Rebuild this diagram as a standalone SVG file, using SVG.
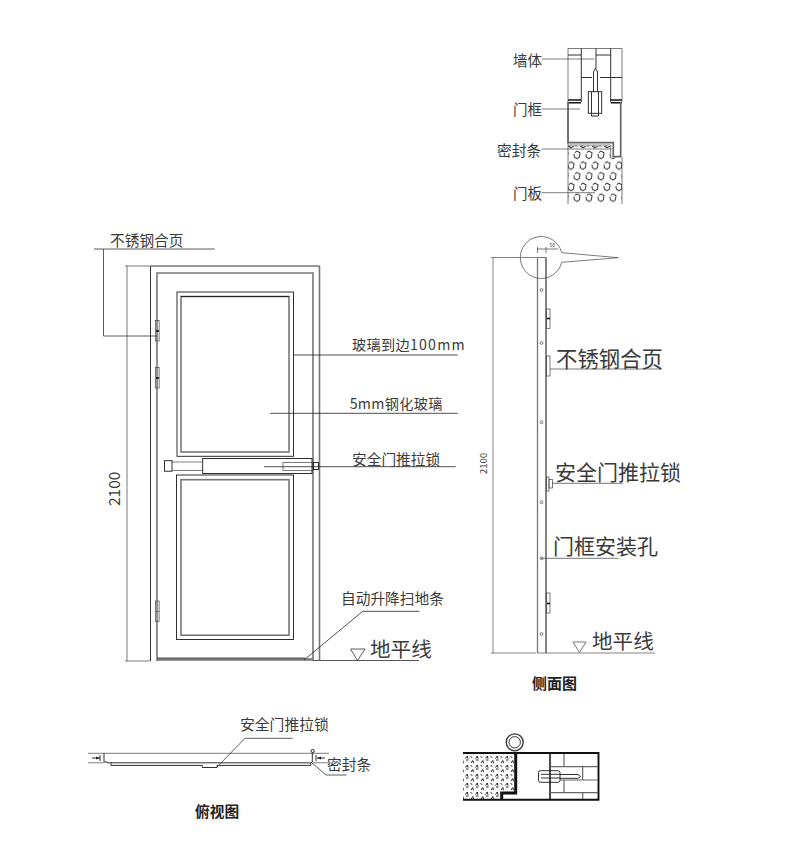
<svg xmlns="http://www.w3.org/2000/svg" width="790" height="855" viewBox="0 0 790 855">
<style>
text{font-family:"Noto Sans CJK SC","Noto Sans",sans-serif;fill:#3a3a3a}
.bold{font-weight:700;fill:#222}
.k,.g,.t,.h{fill:none;stroke-linejoin:miter}
.k{stroke:#1a1a1a;stroke-width:.9}
.g{stroke:#777;stroke-width:1.6}
.t{stroke:#444;stroke-width:.7}
.h{stroke:#111;stroke-width:1.6}
</style>
<defs>
<pattern id="foam" width="12" height="21.400" patternUnits="userSpaceOnUse" patternTransform="translate(571 150)">
<path d="M3.800 2.500L6 1 9 2.800 8.500 7 6 8.600 3.300 7 3 3.800M-2.200 13.200L0 11.700 3 13.500 2.500 17.700 0 19.300-2.700 17.700-3 14.500M9.800 13.200L12 11.700 15 13.500 14.500 17.700 12 19.300 9.300 17.700 9 14.500" fill="none" stroke="#333" stroke-width="1"/>
</pattern>
<pattern id="foam2" width="10" height="9" patternUnits="userSpaceOnUse" patternTransform="translate(464 755)">
<path d="M1.500 3.500L3.300 1 4 3.700M2 5H4.500M7 8L8.800 5.500 9.500 8.200M6.500 1.500L8.300 2.500" fill="none" stroke="#222" stroke-width="1"/>
</pattern>
</defs>

<g id="section-top">
<rect x="568" y="146" width="54" height="58" fill="url(#foam)"/>
<rect x="611" y="140" width="12" height="17.500" fill="#fff"/>
<path d="M568.500 146H610" stroke="#333" stroke-width=".8" stroke-dasharray="3 3"/>
<path class="t" d="M568 204V48.500H622V102M622 157V204" stroke="#555"/>
<path class="h" d="M568 102.700H581M610.700 102.700H622M568 100H581M610.700 100H622"/>
<path class="k" d="M581.300 48.500V102M596 48.500V68M610.700 48.500V102M568 55H581M596 55H610.700M581.300 77.500H592M600 77.500H622"/>
<path class="k" d="M593.500 92V72l2-4 2 4V92"/>
<rect class="k" x="588.300" y="91.700" width="13.400" height="21.600" fill="#fff"/>
<path class="k" d="M591.500 113.500v2.500h7v-2.500M591.500 92v21M598.500 92v21"/>
<path d="M568 102V142.700H613.300V156.700H620.700V102" fill="none" stroke="#666" stroke-width="1.700"/>
<path d="M568 145H610.700V157" fill="none" stroke="#888" stroke-width="1"/>
<path class="t" d="M541.700 59H594.300M541.700 109H580M541.700 149H611.700M541.700 192.700H595"/>
<text x="513" y="66" font-size="14.500">墙体</text>
<text x="513" y="115" font-size="14.500">门框</text>
<text x="497" y="156" font-size="14.700">密封条</text>
<text x="513" y="199" font-size="14.500">门板</text>
</g>

<g id="door-front">
<path class="g" d="M319.500 661V266M157 661V273H313V661"/>
<path d="M150.500 661V266H319.500" fill="none" stroke="#333" stroke-width="1"/>
<rect class="k" x="177" y="292" width="116.500" height="164.300" stroke-width="1.100"/>
<rect class="g" x="181" y="296.500" width="108" height="155.500"/>
<path d="M181 296.500H289" stroke="#222" stroke-width="1"/>
<rect class="k" x="176.500" y="475" width="117" height="164.500" stroke-width="1.100"/>
<rect class="g" x="181" y="479.700" width="108" height="155.500"/>
<path d="M157 659.500H313" stroke="#777" stroke-width="2.400"/>
<path d="M157 658H305" stroke="#222" stroke-width=".8"/>
</g>

<g id="hinges-front">
<g><rect class="t" x="155.500" y="320.500" width="3.600" height="20.500"/><path class="h" d="M156 331H159"/></g>
<g><rect class="t" x="155.500" y="367.500" width="3.600" height="20.500"/><path class="h" d="M156 378H159"/></g>
<g><rect class="t" x="155.500" y="601" width="3.600" height="20.500"/><path class="t" d="M156 611.500H159"/></g>
</g>

<g id="lock-front">
<rect class="k" x="202.700" y="458.500" width="109.300" height="15" fill="#fff"/>
<rect class="k" x="164.500" y="460.700" width="7.500" height="10.500" fill="#fff"/>
<path class="t" d="M172 462H203M172 470.500H203" stroke-width="1"/>
<rect class="t" x="283" y="462.500" width="30" height="8" stroke-width="1"/>
<rect class="k" x="313.500" y="462.500" width="5" height="7" stroke-width="1.200"/>
</g>

<g id="side-view">
<path d="M537.500 257.500V653" fill="none" stroke="#777" stroke-width="1.300"/>
<path d="M546 257.500V653" fill="none" stroke="#777" stroke-width="1.800"/>
<path d="M537.500 257.500H546" stroke="#555" stroke-width=".8"/>
<circle cx="541.500" cy="290" r="1.400" class="t"/>
<circle cx="541.500" cy="343" r="1.400" class="t"/>
<circle cx="541.500" cy="422.300" r="1.400" class="t"/>
<circle cx="541.500" cy="502.300" r="1.400" class="t"/>
<circle cx="541.500" cy="558.300" r="1.400" class="t"/>
<circle cx="541.500" cy="634" r="1.400" class="t"/>
<rect class="t" x="546.500" y="309" width="3.500" height="19.500"/>
<path class="h" d="M547 318.500H550" stroke-width="1"/>
<rect class="t" x="546.500" y="356" width="3.500" height="20"/>
<rect class="t" x="546.500" y="593" width="3.500" height="20"/>
<path class="h" d="M547 603.500H550" stroke-width="1"/>
<rect class="t" x="546.500" y="477" width="2.500" height="14"/>
<rect class="t" x="549" y="479.500" width="3.500" height="8.500"/>
<path class="t" d="M561.700 252.700L618.300 257.700L561.700 262.300A21 21 0 1 1 561.700 252.700Z"/>
<path class="t" d="M537.500 253V247M546 253V247M537.500 249H546M546 249H558"/>
<text x="549.500" y="247.300" font-size="5" font-family="Liberation Sans">50</text>
</g>

<g id="top-view">
<path class="t" d="M88 753.300H329M88 762.800H104M313 762.800H329"/>
<path class="k" d="M104 753.300V762H107V762.800H310.500M111 762.800V765.400H202.300V767.500H217V765.400H310.700V763L312.300 762V753"/>
<circle cx="312.700" cy="751" r="1.600" class="k"/>
<path class="k" d="M92 758H100M100 755V761M317 758H325M316 755V761"/>
<path d="M100 758l-4-1.500v3zM317 758l4-1.500v3z" fill="#222"/>
</g>

<g id="section-bottom">
<rect x="463" y="754" width="52" height="45" fill="url(#foam2)"/>
<rect x="503" y="794" width="12" height="6" fill="#fff"/>
<path d="M463 753H598.500V799.700H463" fill="none" stroke="#111" stroke-width="1.900"/>
<path d="M515.700 753V793H501.700V799" fill="none" stroke="#111" stroke-width="3"/>
<path d="M550 753V800" fill="none" stroke="#111" stroke-width="1.500"/>
<path d="M550 766.700H598M560 780H598M550 792.700H598M564 754V766.700M582.700 766.700V780M564 780V792.700M582.700 792.700V799" fill="none" stroke="#666" stroke-width="1.200"/>
<path class="k" d="M560 774.500H578l2.500 2-2.500 1.800H560" fill="#fff" stroke-width="1.100"/>
<rect class="k" x="538.500" y="770.700" width="21.500" height="11.600" rx="2" fill="#fff" stroke-width="1.300"/>
<path class="k" d="M541 774.300H560M541 778H560" stroke-width="1.100"/>
<circle cx="514.700" cy="742.300" r="8.500" fill="none" stroke="#333" stroke-width="1.300"/>
<circle cx="514.700" cy="742.300" r="5.700" fill="none" stroke="#333" stroke-width="1"/>
</g>

<g id="connectors" fill="none" stroke="#333" stroke-width=".8">
<path d="M94 249H214.700M103.500 249V336H157"/>
<path d="M125 266H150M127 266V661M125 661H150" stroke="#555"/>
<path d="M293.700 355H457.700M270.300 413.300H457.700M264 466.700H455.700" stroke="#222"/>
<path d="M304 660L362.700 611.300H419.300" stroke="#222"/>
<path d="M313 660.500H419" stroke="#555" stroke-width="1.200"/>
<path d="M350.500 649H365L357.500 660.500Z"/>
<path d="M491 257.500H537M493 257.500V653M491 653H536M537 653H655" stroke="#666"/>
<path d="M573 642H586L579.500 652.500Z" stroke="#555"/>
<path d="M550 369H662M552 483.300H622.700M541 558.300H618.300" stroke="#555"/>
<path d="M216.700 767.300L245 738.300H292.700"/>
<path d="M311.700 762.700L326 775H346.700"/>
</g>

<g id="labels">
<text x="110" y="246" font-size="14.700">不锈钢合页</text>
<text transform="translate(120 506) rotate(-90)" font-size="15.500" font-family="Liberation Sans">2100</text>
<text x="352" y="350" font-size="14.200" letter-spacing=".3">玻璃到边<tspan letter-spacing="1.200">100mm</tspan></text>
<text x="349.700" y="409" font-size="14.200" letter-spacing=".3">5mm钢化玻璃</text>
<text x="352" y="465" font-size="14.700">安全门推拉锁</text>
<text x="341" y="604" font-size="14.700">自动升降扫地条</text>
<text x="370" y="657" font-size="20.600">地平线</text>
<text x="556" y="367" font-size="21.400">不锈钢合页</text>
<text x="555" y="480" font-size="21">安全门推拉锁</text>
<text x="553" y="554" font-size="21">门框安装孔</text>
<text x="592" y="649" font-size="20.600">地平线</text>
<text transform="translate(486.500 474) rotate(-90)" font-size="9.500" font-family="Liberation Sans">2100</text>
<text class="bold" x="532" y="689" font-size="15">侧面图</text>
<text x="240" y="730" font-size="14.800">安全门推拉锁</text>
<text x="327" y="770" font-size="14.700">密封条</text>
<text class="bold" x="195" y="817" font-size="14.700">俯视图</text>
</g>
</svg>
